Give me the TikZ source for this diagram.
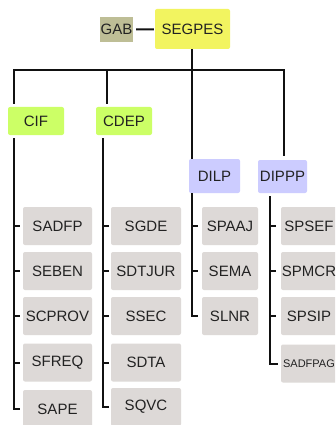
\documentclass[tikz,border=0pt]{standalone}
\usepackage{fontspec}
\setmainfont{Liberation Sans}
\definecolor{gabc}{RGB}{190,190,150}
\definecolor{yelc}{RGB}{242,244,96}
\definecolor{limec}{RGB}{204,255,102}
\definecolor{lavc}{RGB}{204,204,255}
\definecolor{grayc}{RGB}{221,217,215}
\definecolor{txtc}{RGB}{34,34,34}
\definecolor{lnc}{RGB}{17,17,17}
\begin{document}
\begin{tikzpicture}[x=1pt,y=-1pt,
  box/.style={rounded corners=2pt, inner sep=0pt, text=txtc, font=\fontsize{15}{17}\selectfont},
  child/.style={box, fill=grayc, minimum height=38pt},
  conn/.style={line width=2pt, draw=lnc}]
\useasboundingbox (0,0) rectangle (335,425);
\fill[white] (0,0) rectangle (335,425);
\clip (0,0) rectangle (335,425);
% top
\node[box, fill=gabc, rounded corners=0pt, minimum width=33pt, minimum height=25pt] (GAB) at (116.5,29.5) {GAB};
\node[box, fill=yelc, minimum width=75pt, minimum height=40pt] (SEGPES) at (192.5,29) {SEGPES};
\node[box, fill=limec, minimum width=56pt, minimum height=28pt] (CIF) at (36,121) {CIF};
\node[box, fill=limec, minimum width=56pt, minimum height=28pt] (CDEP) at (124,121) {CDEP};
\node[box, fill=lavc, minimum width=51pt, minimum height=34pt] (DILP) at (214.5,176) {DILP};
\node[box, fill=lavc, minimum width=49pt, minimum height=33pt] (DIPPP) at (282.5,176.5) {DIPPP};
% children CIF
\node[child, minimum width=69pt] (SADFP) at (57.5,226) {SADFP};
\node[child, minimum width=69pt] (SEBEN) at (57.5,271) {SEBEN};
\node[child, minimum width=69pt] (SCPROV) at (57.5,316) {SCPROV};
\node[child, minimum width=69pt] (SFREQ) at (57.5,362.5) {SFREQ};
\node[child, minimum width=69pt] (SAPE) at (57.5,409) {SAPE};
% children CDEP
\node[child, minimum width=70pt] (SGDE) at (146,226) {SGDE};
\node[child, minimum width=70pt] (SDTJUR) at (146,271) {SDTJUR};
\node[child, minimum width=70pt] (SSEC) at (146,316) {SSEC};
\node[child, minimum width=70pt] (SDTA) at (146,362.5) {SDTA};
\node[child, minimum width=70pt] (SQVC) at (146,407) {SQVC};
% children DILP
\node[child, minimum width=56pt] (SPAAJ) at (230,226) {SPAAJ};
\node[child, minimum width=56pt] (SEMA) at (230,271) {SEMA};
\node[child, minimum width=56pt] (SLNR) at (230,316) {SLNR};
% children DIPPP
\node[child, minimum width=56pt] (SPSEF) at (309,226) {SPSEF};
\node[child, minimum width=56pt] (SPMCR) at (309,271) {SPMCR};
\node[child, minimum width=56pt] (SPSIP) at (309,316) {SPSIP};
\node[child, minimum width=56pt, font=\fontsize{11}{13}\selectfont] (SADFPAG) at (309,363.5) {SADFPAG};
% coordinates
\coordinate (busL) at (14,70);
\coordinate (busC) at (107,70);
\coordinate (busM) at (192,70);
\coordinate (busR) at (284,70);
\coordinate (tA) at (14,0);
\coordinate (tB) at (103,0);
\coordinate (tC) at (192,0);
\coordinate (tD) at (270,0);
% top connectors
\draw[conn, shorten <=3pt, shorten >=1pt] (GAB) -- (SEGPES);
\draw[conn] (SEGPES.south -| busM) -- (DILP.north -| busM);
\draw[conn, shorten <=3pt, shorten >=4pt] (CIF.north -| busL) -- (busL) -- (busR) -- (DIPPP.north -| busR);
\draw[conn, shorten <=3pt] (CDEP.north -| busC) -- (busC);
% trunks
\draw[conn, shorten <=3pt, shorten >=3pt] (CIF.south -| tA) |- (SAPE.west);
\draw[conn, shorten <=3pt, shorten >=2pt] (CDEP.south -| tB) |- (SQVC.west);
\draw[conn, shorten >=4pt] (DILP.south -| tC) |- (SLNR.west);
\draw[conn, shorten <=3pt, shorten >=3pt] (DIPPP.south -| tD) |- (SADFPAG.west);
% ticks
\foreach \n in {SADFP,SEBEN,SCPROV,SFREQ}
  \draw[conn, shorten >=3pt] (\n.west -| tA) -- (\n.west);
\foreach \n in {SGDE,SDTJUR,SSEC,SDTA}
  \draw[conn, shorten >=2pt] (\n.west -| tB) -- (\n.west);
\foreach \n in {SPAAJ,SEMA}
  \draw[conn, shorten >=4pt] (\n.west -| tC) -- (\n.west);
\foreach \n in {SPSEF,SPMCR,SPSIP}
  \draw[conn, shorten >=5pt] (\n.west -| tD) -- (\n.west);
\end{tikzpicture}
\end{document}
